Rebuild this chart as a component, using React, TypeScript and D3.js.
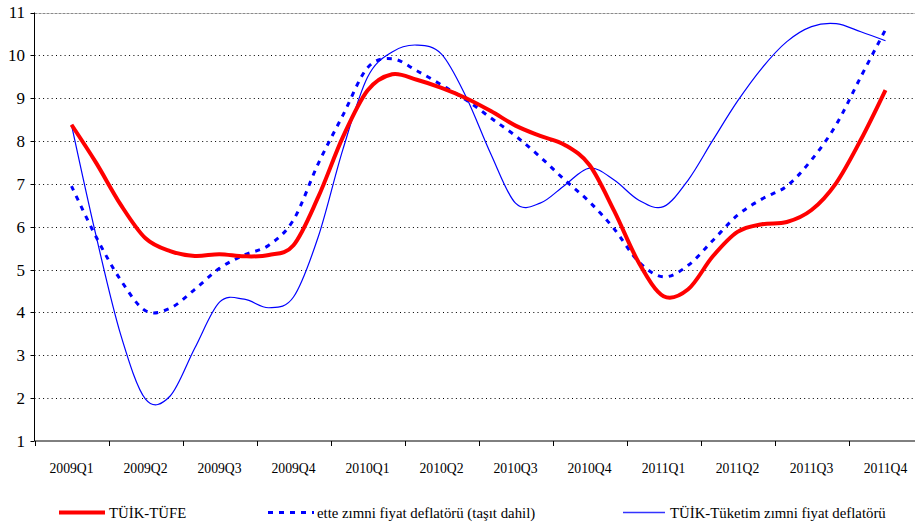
import React, { useRef, useEffect } from "react";
import * as d3 from "d3";

// quarter tick labels (each quarter = 3 monthly points)
const quarters = [
  "2009Q1", "2009Q2", "2009Q3", "2009Q4",
  "2010Q1", "2010Q2", "2010Q3", "2010Q4",
  "2011Q1", "2011Q2", "2011Q3", "2011Q4",
];

const yTicks = [1, 2, 3, 4, 5, 6, 7, 8, 9, 10, 11];

// monthly values, starting in the middle of 2009Q1, ending in the middle of 2011Q4
const tufe = [
  8.38, 7.49, 6.51, 5.73, 5.43, 5.32, 5.36, 5.31, 5.34, 5.57, 6.69, 8.09,
  9.18, 9.56, 9.43, 9.24, 9.0, 8.7, 8.36, 8.12, 7.91, 7.44, 6.37, 5.16,
  4.38, 4.54, 5.31, 5.88, 6.06, 6.11, 6.39, 7.02, 8.03, 9.19,
];

const dahil = [
  6.95, 5.76, 4.75, 4.04, 4.1, 4.54, 5.03, 5.34, 5.57, 6.16, 7.47, 8.6,
  9.71, 9.92, 9.64, 9.31, 8.96, 8.54, 8.12, 7.63, 7.09, 6.58, 5.95, 5.18,
  4.83, 5.1, 5.68, 6.27, 6.65, 6.95, 7.56, 8.38, 9.5, 10.6,
];

const tuketim = [
  8.38, 5.78, 3.47, 1.98, 2.05, 3.17, 4.24, 4.31, 4.11, 4.36, 5.76, 7.8,
  9.49, 10.08, 10.24, 10.03, 9.03, 7.7, 6.55, 6.55, 6.97, 7.37, 7.09, 6.62,
  6.47, 7.09, 8.02, 8.93, 9.71, 10.32, 10.67, 10.74, 10.55, 10.34,
];

const seriesNames = [
  "TÜİK-TÜFE",
  "ette zımni fiyat deflatörü (taşıt dahil)",
  "TÜİK-Tüketim zımni fiyat deflatörü",
];

const FONT = "'Liberation Serif', 'Times New Roman', serif";

export default function App() {
  const svgRef = useRef<SVGSVGElement>(null);

  useEffect(() => {
    const svg = d3.select(svgRef.current);
    svg.selectAll("*").remove();

    const width = 915;
    const height = 527;
    const margin = { top: 12.5, left: 34.5, bottom: 441 };
    const nMonths = quarters.length * 3;

    const x = d3
      .scaleLinear()
      .domain([-1.5, nMonths - 1.5])
      .range([margin.left, margin.left + 74 * quarters.length]);

    const y = d3.scaleLinear().domain([1, 11]).range([margin.bottom, margin.top]);

    svg.attr("viewBox", `0 0 ${width} ${height}`);
    svg.append("rect").attr("width", width).attr("height", height).attr("fill", "#fff");

    // gridlines
    svg
      .append("g")
      .selectAll("line")
      .data(yTicks.filter((d) => d > 1))
      .join("line")
      .attr("x1", margin.left)
      .attr("x2", x(nMonths - 1.5))
      .attr("y1", (d) => Math.round(y(d)) + 0.5)
      .attr("y2", (d) => Math.round(y(d)) + 0.5)
      .attr("stroke", (d) => (d === 11 ? "#8a8a8a" : "#000"))
      .attr("stroke-width", 1)
      .attr("stroke-dasharray", (d) => (d === 11 ? "3,1" : "1,3.3"));

    // axes
    const yAxis = svg.append("g");
    yAxis
      .append("line")
      .attr("x1", margin.left)
      .attr("x2", margin.left)
      .attr("y1", margin.top)
      .attr("y2", margin.bottom)
      .attr("stroke", "#000");
    yAxis
      .selectAll("line.tick")
      .data(yTicks)
      .join("line")
      .attr("class", "tick")
      .attr("x1", margin.left - 4)
      .attr("x2", margin.left)
      .attr("y1", (d) => Math.round(y(d)) + 0.5)
      .attr("y2", (d) => Math.round(y(d)) + 0.5)
      .attr("stroke", "#000");
    yAxis
      .selectAll("text")
      .data(yTicks)
      .join("text")
      .attr("x", 25)
      .attr("y", (d) => y(d))
      .attr("dy", "0.35em")
      .attr("text-anchor", "end")
      .attr("font-family", FONT)
      .attr("font-size", 17)
      .attr("fill", "#000")
      .text((d) => d);

    const xAxis = svg.append("g");
    xAxis
      .append("line")
      .attr("x1", margin.left)
      .attr("x2", x(nMonths - 1.5))
      .attr("y1", margin.bottom)
      .attr("y2", margin.bottom)
      .attr("stroke", "#000");
    xAxis
      .selectAll("line.tick")
      .data(d3.range(quarters.length + 1))
      .join("line")
      .attr("class", "tick")
      .attr("x1", (i) => Math.round(x(i * 3 - 1.5)) + 0.5)
      .attr("x2", (i) => Math.round(x(i * 3 - 1.5)) + 0.5)
      .attr("y1", margin.bottom)
      .attr("y2", margin.bottom + 5)
      .attr("stroke", "#000");
    xAxis
      .selectAll("text")
      .data(quarters)
      .join("text")
      .attr("x", (_, i) => x(i * 3))
      .attr("y", 473)
      .attr("text-anchor", "middle")
      .attr("font-family", FONT)
      .attr("font-size", 13.7)
      .attr("fill", "#000")
      .text((d) => d);

    // lines
    const line = d3
      .line<number>()
      .x((_, i) => x(i))
      .y((d) => y(d))
      .curve(d3.curveCardinal.tension(0));

    const styles = [
      { data: tufe, color: "#ff0000", w: 4, dash: null },
      { data: dahil, color: "#0000ff", w: 3, dash: "5,6" },
      { data: tuketim, color: "#0000ff", w: 1.2, dash: null },
    ];

    const g = svg.append("g");
    styles
      .slice()
      .reverse()
      .forEach((s) => {
        g.append("path")
          .datum(s.data)
          .attr("d", line)
          .attr("fill", "none")
          .attr("stroke", s.color)
          .attr("stroke-width", s.w)
          .attr("stroke-dasharray", s.dash)
          .attr("stroke-linejoin", "round");
      });

    // legend
    const legendPos = [
      { x1: 59, x2: 105, tx: 109 },
      { x1: 268, x2: 314, tx: 317 },
      { x1: 623, x2: 665, tx: 670 },
    ];
    const legend = svg.append("g");
    seriesNames.forEach((name, i) => {
      const p = legendPos[i];
      const s = styles[i];
      legend
        .append("line")
        .attr("x1", p.x1)
        .attr("x2", p.x2)
        .attr("y1", 512.5)
        .attr("y2", 512.5)
        .attr("stroke", i === 2 ? "#3333ff" : s.color)
        .attr("stroke-width", i === 2 ? 1.5 : s.w)
        .attr("stroke-dasharray", s.dash);
      legend
        .append("text")
        .attr("x", p.tx)
        .attr("y", 518)
        .attr("font-family", FONT)
        .attr("font-size", 14.8)
        .attr("fill", "#000")
        .text(name);
    });
  }, []);

  return (
    <svg
      ref={svgRef}
      width={915}
      height={527}
      style={{ position: "absolute", left: 0, top: 0, display: "block" }}
    />
  );
}
